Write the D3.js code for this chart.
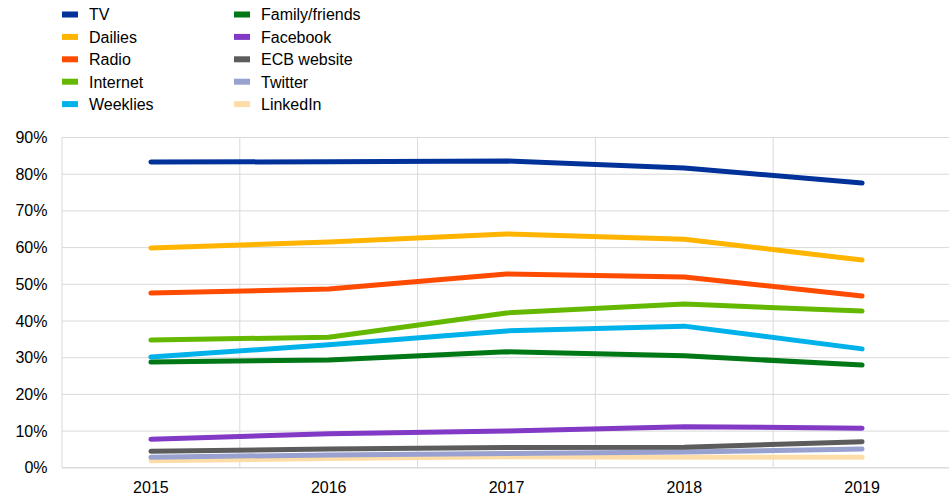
<!DOCTYPE html>
<html><head><meta charset="utf-8">
<script src="https://cdn.jsdelivr.net/npm/d3@7"></script>
<style>body{margin:0;background:#fff}text{font-family:Arial,"Liberation Sans",sans-serif;fill:#000}</style>
</head><body><svg id="c" width="949" height="495"></svg>
<script>
const years = ["2015","2016","2017","2018","2019"];
const yTicks = [0,10,20,30,40,50,60,70,80,90];
const seriesNames = ["TV","Dailies","Radio","Internet","Weeklies","Family/friends","Facebook","ECB website","Twitter","LinkedIn"];
const seriesColors = ["#003299","#FFB400","#FF4B00","#65B800","#00B1EA","#007816","#8139C6","#5C5C5C","#98A1D0","#FDDDA7"];
const tv = [83.3,83.4,83.6,81.7,77.6];
const dailies = [59.9,61.5,63.7,62.3,56.6];
const radio = [47.6,48.7,52.8,52.0,46.8];
const internet = [34.8,35.6,42.2,44.6,42.7];
const weeklies = [30.2,33.5,37.3,38.6,32.4];
const family = [28.8,29.4,31.6,30.5,28.0];
const facebook = [7.8,9.3,10.0,11.2,10.8];
const ecb = [4.5,5.1,5.5,5.6,7.1];
const twitter = [2.9,3.5,3.9,4.3,5.1];
const linkedin = [1.9,2.5,3.0,2.9,2.9];
const seriesValues = [tv,dailies,radio,internet,weeklies,family,facebook,ecb,twitter,linkedin];

const svg = d3.select("#c");
const L=62, R=951, T=137.5, B=467.8;
const x = d3.scaleBand().domain(years).range([L,R]);
const y = d3.scaleLinear().domain([0,90]).range([B,T]);

svg.append("g").selectAll("line").data(yTicks).join("line")
  .attr("x1",L).attr("x2",R).attr("y1",d=>y(d)).attr("y2",d=>y(d))
  .attr("stroke","#d9d9d9").attr("stroke-width",1);
svg.append("g").selectAll("line").data(years).join("line")
  .attr("x1",d=>x(d)+x.bandwidth()).attr("x2",d=>x(d)+x.bandwidth())
  .attr("y1",T).attr("y2",B).attr("stroke","#d9d9d9").attr("stroke-width",1);
svg.append("line").attr("x1",L).attr("x2",L).attr("y1",T).attr("y2",B).attr("stroke","#d9d9d9");
svg.append("line").attr("x1",L).attr("x2",R).attr("y1",B).attr("y2",B).attr("stroke","#d9d9d9");

svg.append("g").selectAll("text").data(yTicks).join("text")
  .attr("x",47.5).attr("y",d=>y(d)+5.5).attr("text-anchor","end").attr("font-size",16)
  .text(d=>d+"%");
svg.append("g").selectAll("text").data(years).join("text")
  .attr("x",d=>x(d)+x.bandwidth()/2).attr("y",492.5).attr("text-anchor","middle").attr("font-size",16)
  .text(d=>d);

const line = d3.line().x((d,i)=>x(years[i])+x.bandwidth()/2).y(d=>y(d));
const order = d3.range(seriesValues.length).reverse();
svg.append("g").selectAll("path").data(order).join("path")
  .attr("d",i=>line(seriesValues[i])).attr("fill","none")
  .attr("stroke",i=>seriesColors[i]).attr("stroke-width",5)
  .attr("stroke-linecap","round").attr("stroke-linejoin","round");

const lg = svg.append("g").selectAll("g").data(seriesNames).join("g")
  .attr("transform",(d,i)=>`translate(${i<5?62:234},${14.5+ (i%5)*22.4})`);
lg.append("rect").attr("x",0).attr("y",-3).attr("width",16).attr("height",6)
  .attr("fill",(d,i)=>seriesColors[i]);
lg.append("text").attr("x",27).attr("y",5.8).attr("font-size",16).text(d=>d);
</script></body></html>
